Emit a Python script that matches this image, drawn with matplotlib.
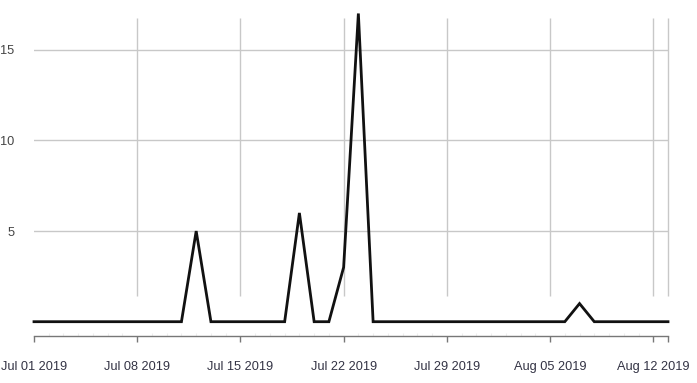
import numpy as np
import pandas as pd
import matplotlib
matplotlib.use("Agg")
import matplotlib.pyplot as plt
import matplotlib.dates as mdates

dates = pd.date_range("2019-07-01", "2019-08-13", freq="D")
values = [0, 0, 0, 0, 0, 0, 0, 0, 0, 0,   # Jul 01-10
          0, 5, 0, 0, 0, 0, 0, 0, 6, 0,   # Jul 11-20
          0, 3, 17, 0, 0, 0, 0, 0, 0, 0,  # Jul 21-30
          0, 0, 0, 0, 0, 0, 0, 1, 0, 0,   # Jul 31-Aug 09
          0, 0, 0, 0]                     # Aug 10-13
major_dates = pd.to_datetime(["2019-07-01", "2019-07-08", "2019-07-15", "2019-07-22",
                              "2019-07-29", "2019-08-05", "2019-08-12", "2019-08-13"])
major_labels = ["Jul 01 2019", "Jul 08 2019", "Jul 15 2019", "Jul 22 2019",
                "Jul 29 2019", "Aug 05 2019", "Aug 12 2019", ""]
y_ticks = [5, 10, 15]

plt.rcParams['font.family'] = ['Liberation Sans', 'DejaVu Sans']
W, H = 697, 383
fig = plt.figure(figsize=(W / 100, H / 100), dpi=100)
left, right = 34, 668
top, bottom = 13.5, 321.7
ax = fig.add_axes([left / W, (H - bottom) / H, (right - left) / W, (bottom - top) / H])

grid_c = "#c8c8c8"
ax.set_xlim(dates[0], dates[-1])
ax.set_ylim(0, 17)

# grid
for yv in y_ticks:
    ax.axhline(yv, color=grid_c, lw=1.0, zorder=1)
ax.vlines(major_dates[1:], 1.4, 16.75, color=grid_c, lw=1.0, zorder=1, clip_on=False)

ax.plot(dates, values, color="#111111", lw=2.0, zorder=3, solid_joinstyle="miter",
        clip_on=False)

for s in ["top", "right", "left"]:
    ax.spines[s].set_visible(False)
ax.spines["bottom"].set_position(("outward", 10.5))
ax.spines["bottom"].set_color("#777777")
ax.spines["bottom"].set_linewidth(1.0)

ax.set_xticks(major_dates)
ax.set_xticklabels(major_labels)
ax.set_xticks(dates, minor=True)
ax.tick_params(axis="x", which="major", direction="out", length=4.5, width=1.0,
               color="#777777", labelsize=9.2, labelcolor="#333344", pad=13)
ax.tick_params(axis="x", which="minor", direction="in", length=2, width=0.8,
               color="#eeeeee")
ax.set_yticks(y_ticks)
ax.tick_params(axis="y", length=0, labelsize=9.2, labelcolor="#444444", pad=14)
for t in ax.get_xticklines() + ax.get_xticklines(minor=True):
    t.set_clip_on(False)

fig.savefig("out.png", dpi=100)
